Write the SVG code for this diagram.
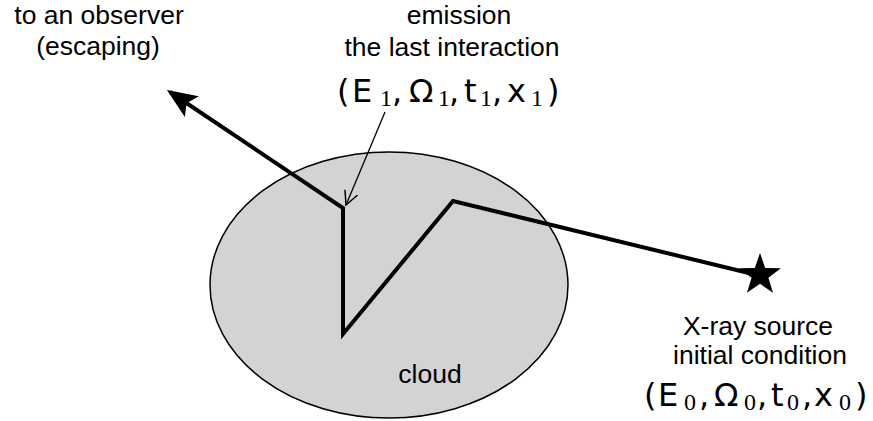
<svg xmlns="http://www.w3.org/2000/svg" width="873" height="421" viewBox="0 0 873 421">
<style>
.lbl{font-family:"Liberation Sans",Arial,sans-serif;font-size:26.5px;fill:#000;text-anchor:middle}
.m{font-family:"DejaVu Sans",sans-serif;font-size:32px;fill:#000}
.s{font-family:"Liberation Serif",serif;font-size:24px;fill:#000}
.path{fill:none;stroke:#000;stroke-width:4;stroke-linejoin:miter}
.thin{fill:none;stroke:#000;stroke-width:1.3}
</style>
<defs>
<marker id="head" markerUnits="userSpaceOnUse" markerWidth="30" markerHeight="30" refX="21" refY="10" orient="auto" viewBox="0 0 24 20">
<path d="M0,0 L24,10 L0,20 L5,10 Z" fill="#000"/>
</marker>
<marker id="open" markerUnits="userSpaceOnUse" markerWidth="16" markerHeight="16" refX="12" refY="6" orient="auto" viewBox="0 0 14 12">
<path d="M0,0 L12,6 L0,12" fill="none" stroke="#000" stroke-width="1.3"/>
</marker>
</defs>
<g id="cloud">
<ellipse cx="389" cy="285" rx="179" ry="133" fill="#d3d3d3" stroke="#000" stroke-width="1.5"/>
<text class="lbl" x="430" y="383">cloud</text>
</g>
<g id="connectors">
<path class="path" d="M757,275 L453,201 L343,334 L343,208 L170,92" marker-end="url(#head)"/>
<path class="thin" d="M385,112 L346,205" marker-end="url(#open)"/>
</g>
<g id="source">
<polygon points="760,253 765.2,268.1 780.9,268.2 768.4,277.8 773,292.8 760,283.8 747,292.8 751.6,277.8 739.1,268.2 754.8,268.1" fill="#000"/>
<text class="lbl" x="758" y="335">X-ray source</text>
<text class="lbl" x="760" y="364">initial condition</text>
<text y="406"><tspan class="m" x="644">(</tspan><tspan class="m" x="658">E</tspan><tspan class="s" x="684" dy="4">0</tspan><tspan class="m" x="699" dy="-4">,</tspan><tspan class="m" x="714">Ω</tspan><tspan class="s" x="744" dy="4">0</tspan><tspan class="m" x="757" dy="-4">,</tspan><tspan class="m" x="771">t</tspan><tspan class="s" x="787" dy="4">0</tspan><tspan class="m" x="802" dy="-4">,</tspan><tspan class="m" x="814">x</tspan><tspan class="s" x="839" dy="4">0</tspan><tspan class="m" x="855" dy="-4">)</tspan></text>
</g>
<g id="observer">
<text class="lbl" x="99" y="24">to an observer</text>
<text class="lbl" x="98" y="55">(escaping)</text>
</g>
<g id="emission">
<text class="lbl" x="459" y="24">emission</text>
<text class="lbl" x="452" y="56">the last interaction</text>
<text y="102"><tspan class="m" x="337">(</tspan><tspan class="m" x="352">E</tspan><tspan class="s" x="380" dy="4">1</tspan><tspan class="m" x="392" dy="-4">,</tspan><tspan class="m" x="409">Ω</tspan><tspan class="s" x="438" dy="4">1</tspan><tspan class="m" x="449" dy="-4">,</tspan><tspan class="m" x="464">t</tspan><tspan class="s" x="480" dy="4">1</tspan><tspan class="m" x="492" dy="-4">,</tspan><tspan class="m" x="507">x</tspan><tspan class="s" x="531" dy="4">1</tspan><tspan class="m" x="547" dy="-4">)</tspan></text>
</g>
</svg>
